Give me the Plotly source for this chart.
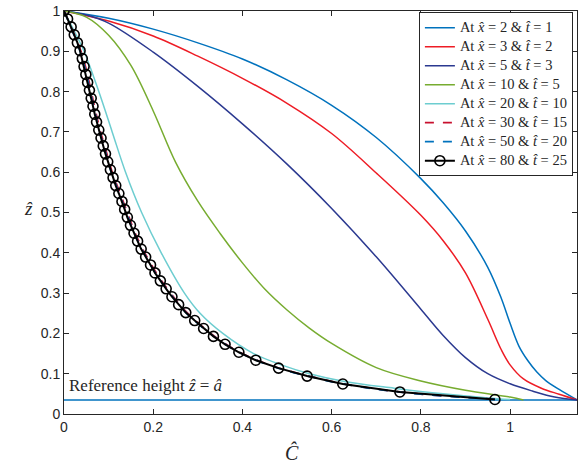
import plotly.graph_objects as go

# ---------------- data ----------------
# x = 2, t = 1
c_x2 = [0, 0.1, 0.2, 0.3, 0.4, 0.5, 0.6, 0.7, 0.8, 0.85, 0.9, 0.95, 0.98, 1.0, 1.02, 1.04, 1.06, 1.08, 1.11, 1.15]
z_x2 = [1, 0.982, 0.955, 0.921, 0.881, 0.829, 0.766, 0.686, 0.584, 0.524, 0.454, 0.364, 0.288, 0.225, 0.168, 0.132, 0.104, 0.083, 0.061, 0.035]
# x = 3, t = 2
c_x3 = [0, 0.1, 0.2, 0.3, 0.4, 0.5, 0.6, 0.7, 0.8, 0.85, 0.9, 0.95, 0.98, 1.0, 1.03, 1.07, 1.11, 1.15]
z_x3 = [1, 0.975, 0.938, 0.888, 0.833, 0.771, 0.696, 0.598, 0.493, 0.43, 0.35, 0.235, 0.16, 0.122, 0.087, 0.064, 0.049, 0.035]
# x = 5, t = 3
c_x5 = [0, 0.05, 0.1, 0.2, 0.3, 0.4, 0.5, 0.6, 0.7, 0.8, 0.85, 0.9, 0.95, 1.0, 1.05, 1.1, 1.15]
z_x5 = [1, 0.99, 0.97, 0.898, 0.813, 0.72, 0.62, 0.51, 0.39, 0.26, 0.195, 0.14, 0.10, 0.075, 0.057, 0.042, 0.035]
# x = 10, t = 5
c_x10 = [0, 0.05, 0.1, 0.15, 0.2, 0.25, 0.3, 0.35, 0.4, 0.45, 0.5, 0.55, 0.6, 0.7, 0.8, 0.9, 1.0, 1.03]
z_x10 = [1, 0.985, 0.94, 0.865, 0.752, 0.625, 0.528, 0.448, 0.375, 0.31, 0.258, 0.213, 0.175, 0.115, 0.082, 0.059, 0.042, 0.035]
# x = 20, t = 10
z_x20 = [1, 0.95, 0.9, 0.8, 0.7, 0.6, 0.5, 0.4, 0.3, 0.25, 0.2, 0.15, 0.12, 0.1, 0.08, 0.064, 0.05, 0.04, 0.036]
c_x20 = [0, 0.023, 0.045, 0.078, 0.108, 0.138, 0.174, 0.218, 0.270, 0.305, 0.356, 0.425, 0.492, 0.550, 0.632, 0.74, 0.85, 0.95, 1.0]
# x = 30, t = 15
z_x30 = [1, 0.95, 0.9, 0.85, 0.8, 0.75, 0.7, 0.65, 0.6, 0.55, 0.5, 0.45, 0.4, 0.35, 0.3, 0.25, 0.2, 0.17, 0.15, 0.13, 0.11, 0.09, 0.075, 0.06, 0.05, 0.04, 0.037]
c_x30 = [0, 0.020, 0.038, 0.051, 0.061, 0.071, 0.082, 0.095, 0.108, 0.125, 0.142, 0.159, 0.181, 0.207, 0.239, 0.277, 0.329, 0.368, 0.400, 0.441, 0.494, 0.564, 0.625, 0.713, 0.795, 0.915, 0.966]
# x = 50, t = 20
z_x50 = [1, 0.95, 0.9, 0.85, 0.8, 0.75, 0.7, 0.65, 0.6, 0.55, 0.5, 0.45, 0.4, 0.35, 0.3, 0.25, 0.2, 0.17, 0.15, 0.13, 0.11, 0.09, 0.075, 0.06, 0.05, 0.04, 0.037]
c_x50 = [0, 0.019, 0.036, 0.049, 0.059, 0.069, 0.080, 0.093, 0.106, 0.123, 0.140, 0.157, 0.179, 0.205, 0.237, 0.275, 0.327, 0.366, 0.398, 0.439, 0.492, 0.562, 0.623, 0.711, 0.793, 0.912, 0.966]
# x = 80, t = 25 (with markers)
z_x80 = [0.036, 0.0547, 0.0744, 0.0941, 0.1138, 0.1335, 0.1532, 0.1729, 0.1926, 0.2122,
         0.2319, 0.2516, 0.2713, 0.2910, 0.3107, 0.3304, 0.3501, 0.3698, 0.3895, 0.4092,
         0.4289, 0.4486, 0.4683, 0.4880, 0.5077, 0.5274, 0.5471, 0.5668, 0.5865, 0.6061,
         0.6258, 0.6455, 0.6652, 0.6849, 0.7046, 0.7243, 0.7440, 0.7637, 0.7834, 0.8031,
         0.8228, 0.8425, 0.8622, 0.8819, 0.9016, 0.9213, 0.9410, 0.9606, 0.9803, 1.0]
c_x80 = [0.966, 0.753, 0.625, 0.545, 0.481, 0.430, 0.392, 0.361, 0.335, 0.313,
         0.293, 0.273, 0.257, 0.242, 0.229, 0.216, 0.204, 0.194, 0.183, 0.173,
         0.165, 0.157, 0.149, 0.142, 0.136, 0.130, 0.123, 0.116, 0.110, 0.104,
         0.098, 0.093, 0.088, 0.083, 0.078, 0.073, 0.069, 0.065, 0.061, 0.057,
         0.053, 0.049, 0.045, 0.041, 0.036, 0.030, 0.023, 0.016, 0.008, 0.0]

ref_height = 0.035
x_range = [0, 1.15]
y_range = [0, 1]
x_ticks = [0, 0.2, 0.4, 0.6, 0.8, 1]
y_ticks = [0, 0.1, 0.2, 0.3, 0.4, 0.5, 0.6, 0.7, 0.8, 0.9, 1]
series_x = ["2", "3", "5", "10", "20", "30", "50", "80"]
series_t = ["1", "2", "3", "5", "10", "15", "20", "25"]

labels = ['<span style="font-size:14.5px">At <i>x\u0302</i> = %s &amp; <i>t\u0302</i> = %s</span>' % (a, b)
          for a, b in zip(series_x, series_t)]

SERIF = "Liberation Serif, DejaVu Serif, serif"
SANS = "Liberation Sans, Arial, sans-serif"

fig = go.Figure()

# reference height line
fig.add_trace(go.Scatter(x=x_range, y=[ref_height, ref_height], mode="lines",
                         line=dict(color="#0072BD", width=1.5), showlegend=False,
                         hoverinfo="skip"))

smooth = dict(shape="spline", smoothing=1.0)
fig.add_trace(go.Scatter(x=c_x2, y=z_x2, mode="lines", name=labels[0],
                         line=dict(color="#0072BD", width=1.5, **smooth)))
fig.add_trace(go.Scatter(x=c_x3, y=z_x3, mode="lines", name=labels[1],
                         line=dict(color="#EE1C25", width=1.5, **smooth)))
fig.add_trace(go.Scatter(x=c_x5, y=z_x5, mode="lines", name=labels[2],
                         line=dict(color="#2B3990", width=1.5, **smooth)))
fig.add_trace(go.Scatter(x=c_x10, y=z_x10, mode="lines", name=labels[3],
                         line=dict(color="#77AC30", width=1.5, **smooth)))
fig.add_trace(go.Scatter(x=c_x20, y=z_x20, mode="lines", name=labels[4],
                         line=dict(color="#6DCDD0", width=1.5, **smooth)))
fig.add_trace(go.Scatter(x=c_x30, y=z_x30, mode="lines", name=labels[5],
                         line=dict(color="#C8102E", width=1.8, dash="dash", **smooth)))
fig.add_trace(go.Scatter(x=c_x50, y=z_x50, mode="lines", name=labels[6],
                         line=dict(color="#0072BD", width=1.8, dash="dash", **smooth)))
fig.add_trace(go.Scatter(x=c_x80, y=z_x80, mode="lines+markers", name=labels[7],
                         line=dict(color="black", width=2),
                         marker=dict(symbol="circle-open", size=10, color="black",
                                     line=dict(width=1.6, color="black"))))

axis_common = dict(showline=True, linecolor="#262626", linewidth=1, mirror="ticks",
                   ticks="inside", ticklen=5, tickcolor="#262626", showgrid=False,
                   zeroline=False, tickfont=dict(family=SANS, size=14, color="#262626"))

fig.update_layout(
    width=578, height=466,
    margin=dict(l=64, r=1, t=11, b=52),
    paper_bgcolor="white", plot_bgcolor="white",
    xaxis=dict(range=x_range, tickvals=x_ticks, ticktext=[f"{v:g}" for v in x_ticks], **axis_common),
    yaxis=dict(range=y_range, tickvals=y_ticks, ticktext=[f"{v:g}" for v in y_ticks], **axis_common),
    legend=dict(x=0.992, y=0.997, xanchor="right", yanchor="top",
                bgcolor="white", bordercolor="#262626", borderwidth=1,
                font=dict(family=SERIF, size=10, color="#262626"),
                tracegroupgap=0, itemwidth=30),
    showlegend=True,
)

fig.add_annotation(x=0.006, y=0.071, xref="x", yref="y", xanchor="left", yanchor="middle",
                   text="Reference height <i>z\u0302</i> = <i>a\u0302</i>", showarrow=False,
                   font=dict(family=SERIF, size=17, color="#262626"))
fig.add_annotation(x=-0.07, y=0.51, xref="paper", yref="paper", xanchor="center", yanchor="middle",
                   text="<i>z\u0302</i>", showarrow=False,
                   font=dict(family=SERIF, size=19, color="#262626"))
fig.add_annotation(x=0.445, y=-0.095, xref="paper", yref="paper", xanchor="center", yanchor="middle",
                   text="<i>C\u0302</i>", showarrow=False,
                   font=dict(family=SERIF, size=20, color="#262626"))

fig.write_html("out.html")
